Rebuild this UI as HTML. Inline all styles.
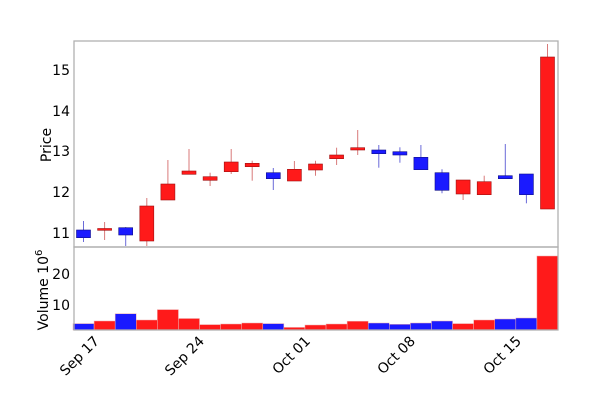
<!DOCTYPE html>
<html><head><meta charset="utf-8"><style>
html,body{margin:0;padding:0;background:#fff;}
svg{display:block;font-family:"DejaVu Sans","Liberation Sans",sans-serif;}
</style></head><body>
<svg width="600" height="414" viewBox="0 0 600 414" xmlns="http://www.w3.org/2000/svg">
<rect width="600" height="414" fill="#fff"/>
<g stroke="#f0b0b0" stroke-width="0.5">
<rect x="73" y="323.6" width="21.09" height="6.4" fill="#1a1aff"/>
<rect x="94.09" y="321" width="21.09" height="9" fill="#ff1a1a"/>
<rect x="115.17" y="313.7" width="21.09" height="16.3" fill="#1a1aff"/>
<rect x="136.26" y="320" width="21.09" height="10" fill="#ff1a1a"/>
<rect x="157.35" y="309.6" width="21.09" height="20.4" fill="#ff1a1a"/>
<rect x="178.43" y="318.5" width="21.09" height="11.5" fill="#ff1a1a"/>
<rect x="199.52" y="324.6" width="21.09" height="5.4" fill="#ff1a1a"/>
<rect x="220.61" y="324" width="21.09" height="6" fill="#ff1a1a"/>
<rect x="241.7" y="323" width="21.09" height="7" fill="#ff1a1a"/>
<rect x="262.78" y="323.6" width="21.09" height="6.4" fill="#1a1aff"/>
<rect x="283.87" y="327.4" width="21.09" height="2.6" fill="#ff1a1a"/>
<rect x="304.96" y="325" width="21.09" height="5" fill="#ff1a1a"/>
<rect x="326.04" y="324" width="21.09" height="6" fill="#ff1a1a"/>
<rect x="347.13" y="321.2" width="21.09" height="8.8" fill="#ff1a1a"/>
<rect x="368.22" y="323" width="21.09" height="7" fill="#1a1aff"/>
<rect x="389.3" y="324.3" width="21.09" height="5.7" fill="#1a1aff"/>
<rect x="410.39" y="323" width="21.09" height="7" fill="#1a1aff"/>
<rect x="431.48" y="321" width="21.09" height="9" fill="#1a1aff"/>
<rect x="452.57" y="323.6" width="21.09" height="6.4" fill="#ff1a1a"/>
<rect x="473.65" y="320" width="21.09" height="10" fill="#ff1a1a"/>
<rect x="494.74" y="319" width="21.09" height="11" fill="#1a1aff"/>
<rect x="515.83" y="318" width="21.09" height="12" fill="#1a1aff"/>
<rect x="536.91" y="256" width="21.09" height="74" fill="#ff1a1a"/>
</g>
<g stroke-width="1">
<line x1="83.5" x2="83.5" y1="221" y2="242" stroke="#6a6ad8"/>
<line x1="104.6" x2="104.6" y1="222" y2="240" stroke="#d87a7a"/>
<line x1="125.7" x2="125.7" y1="227" y2="246" stroke="#6a6ad8"/>
<line x1="146.8" x2="146.8" y1="198" y2="246" stroke="#d87a7a"/>
<line x1="167.9" x2="167.9" y1="160" y2="200" stroke="#d87a7a"/>
<line x1="189" x2="189" y1="149" y2="174" stroke="#d87a7a"/>
<line x1="210.1" x2="210.1" y1="172.7" y2="186" stroke="#d87a7a"/>
<line x1="231.2" x2="231.2" y1="149" y2="174" stroke="#d87a7a"/>
<line x1="252.2" x2="252.2" y1="160.7" y2="180.7" stroke="#d87a7a"/>
<line x1="273.3" x2="273.3" y1="168" y2="190" stroke="#6a6ad8"/>
<line x1="294.4" x2="294.4" y1="161" y2="181" stroke="#d87a7a"/>
<line x1="315.5" x2="315.5" y1="160.7" y2="175.7" stroke="#d87a7a"/>
<line x1="336.6" x2="336.6" y1="147.7" y2="165" stroke="#d87a7a"/>
<line x1="357.7" x2="357.7" y1="130" y2="155" stroke="#d87a7a"/>
<line x1="378.8" x2="378.8" y1="145" y2="167.7" stroke="#6a6ad8"/>
<line x1="399.9" x2="399.9" y1="147.3" y2="162.7" stroke="#6a6ad8"/>
<line x1="420.9" x2="420.9" y1="145" y2="169.7" stroke="#6a6ad8"/>
<line x1="442" x2="442" y1="169.3" y2="193.3" stroke="#6a6ad8"/>
<line x1="463.1" x2="463.1" y1="180" y2="200" stroke="#d87a7a"/>
<line x1="484.2" x2="484.2" y1="175.7" y2="194.7" stroke="#d87a7a"/>
<line x1="505.3" x2="505.3" y1="144" y2="178.7" stroke="#6a6ad8"/>
<line x1="526.4" x2="526.4" y1="174" y2="203.3" stroke="#6a6ad8"/>
<line x1="547.5" x2="547.5" y1="44" y2="209" stroke="#d87a7a"/>
</g>
<g stroke-width="0.6">
<rect x="76.5" y="230" width="14" height="7.7" fill="#1a1aff" stroke="#10108a"/>
<rect x="97.6" y="228.5" width="14" height="1.8" fill="#ff1a1a" stroke="#a01010"/>
<rect x="118.7" y="227.7" width="14" height="7.3" fill="#1a1aff" stroke="#10108a"/>
<rect x="139.8" y="206" width="14" height="35" fill="#ff1a1a" stroke="#a01010"/>
<rect x="160.9" y="184" width="14" height="16" fill="#ff1a1a" stroke="#a01010"/>
<rect x="182" y="171" width="14" height="3.3" fill="#ff1a1a" stroke="#a01010"/>
<rect x="203.1" y="176.7" width="14" height="3.6" fill="#ff1a1a" stroke="#a01010"/>
<rect x="224.2" y="162" width="14" height="9.7" fill="#ff1a1a" stroke="#a01010"/>
<rect x="245.2" y="163.3" width="14" height="3.4" fill="#ff1a1a" stroke="#a01010"/>
<rect x="266.3" y="172.7" width="14" height="6" fill="#1a1aff" stroke="#10108a"/>
<rect x="287.4" y="169.3" width="14" height="11.7" fill="#ff1a1a" stroke="#a01010"/>
<rect x="308.5" y="164" width="14" height="6" fill="#ff1a1a" stroke="#a01010"/>
<rect x="329.6" y="155" width="14" height="3.7" fill="#ff1a1a" stroke="#a01010"/>
<rect x="350.7" y="147.7" width="14" height="2.3" fill="#ff1a1a" stroke="#a01010"/>
<rect x="371.8" y="150" width="14" height="3.7" fill="#1a1aff" stroke="#10108a"/>
<rect x="392.9" y="151.7" width="14" height="3.3" fill="#1a1aff" stroke="#10108a"/>
<rect x="413.9" y="157.3" width="14" height="12.4" fill="#1a1aff" stroke="#10108a"/>
<rect x="435" y="172.7" width="14" height="17.6" fill="#1a1aff" stroke="#10108a"/>
<rect x="456.1" y="180" width="14" height="14" fill="#ff1a1a" stroke="#a01010"/>
<rect x="477.2" y="181.7" width="14" height="13" fill="#ff1a1a" stroke="#a01010"/>
<rect x="498.3" y="175.7" width="14" height="3" fill="#1a1aff" stroke="#10108a"/>
<rect x="519.4" y="174" width="14" height="20.7" fill="#1a1aff" stroke="#10108a"/>
<rect x="540.5" y="57" width="14" height="152" fill="#ff1a1a" stroke="#a01010"/>
</g>
<rect x="74" y="41" width="484" height="206" fill="none" stroke="#b0b0b0" stroke-width="1.3"/>
<rect x="74" y="247" width="484" height="83" fill="none" stroke="#b0b0b0" stroke-width="1.3"/>
<g font-size="14" fill="#000" text-anchor="end">
<text x="70" y="75">15</text><text x="70" y="116">14</text><text x="70" y="156">13</text>
<text x="70" y="197">12</text><text x="70" y="238">11</text>
<text x="70" y="279">20</text><text x="70" y="310">10</text>
</g>
<text transform="translate(51,145) rotate(-90)" font-size="14" text-anchor="middle">Price</text>
<text transform="translate(48,290) rotate(-90)" font-size="14" text-anchor="middle">Volume  10<tspan dy="-6" font-size="10">6</tspan></text>
<g font-size="14" text-anchor="end">
<text transform="translate(100,342) rotate(-45)">Sep 17</text>
<text transform="translate(205,342) rotate(-45)">Sep 24</text>
<text transform="translate(311,342) rotate(-45)">Oct 01</text>
<text transform="translate(416,342) rotate(-45)">Oct 08</text>
<text transform="translate(522,342) rotate(-45)">Oct 15</text>
</g>
</svg>
</body></html>
